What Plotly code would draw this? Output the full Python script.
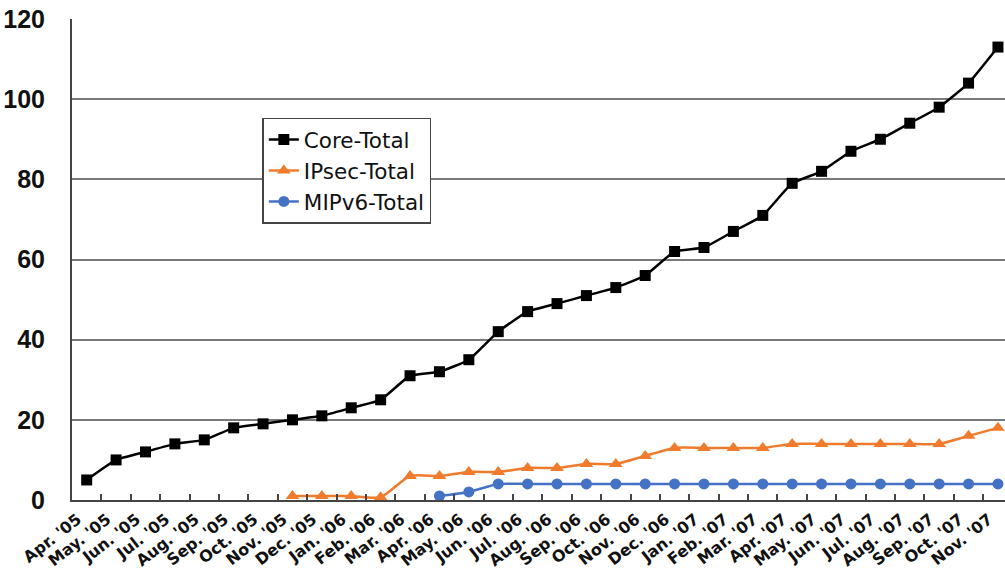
import plotly.graph_objects as go

months = ["Apr. '05", "May. '05", "Jun. '05", "Jul. '05", "Aug. '05", "Sep. '05", "Oct. '05", "Nov. '05",
          "Dec. '05", "Jan. '06", "Feb. '06", "Mar. '06", "Apr. '06", "May. '06", "Jun. '06", "Jul. '06",
          "Aug. '06", "Sep. '06", "Oct. '06", "Nov. '06", "Dec. '06", "Jan. '07", "Feb. '07", "Mar. '07",
          "Apr. '07", "May. '07", "Jun. '07", "Jul. '07", "Aug. '07", "Sep. '07", "Oct. '07", "Nov. '07"]

core_total = [5, 10, 12, 14, 15, 18, 19, 20, 21, 23, 25, 31, 32, 35, 42, 47, 49, 51, 53, 56, 62, 63,
              67, 71, 79, 82, 87, 90, 94, 98, 104, 113]

ipsec_months = months[7:]
ipsec_total = [1, 1, 1, 0.7, 6, 6, 7, 7, 8, 8, 9, 9, 11, 13, 13, 13, 13, 14, 14, 14, 14, 14, 14, 16, 18]

mipv6_months = months[12:]
mipv6_total = [1, 2, 4, 4, 4, 4, 4, 4, 4, 4, 4, 4, 4, 4, 4, 4, 4, 4, 4, 4]

y_ticks = [0, 20, 40, 60, 80, 100, 120]

fig = go.Figure()
fig.add_trace(go.Scatter(
    x=months, y=core_total, name="Core-Total", mode="lines+markers",
    line=dict(color="#000000", width=2.5, shape="spline", smoothing=0.4),
    marker=dict(symbol="square", size=11, color="#000000"), cliponaxis=False))
fig.add_trace(go.Scatter(
    x=ipsec_months, y=ipsec_total, name="IPsec-Total", mode="lines+markers",
    line=dict(color="#F07B2C", width=2.5, shape="spline", smoothing=0.6),
    marker=dict(symbol="triangle-up", size=12, color="#F07B2C"), cliponaxis=False))
fig.add_trace(go.Scatter(
    x=mipv6_months, y=mipv6_total, name="MIPv6-Total", mode="lines+markers",
    line=dict(color="#4472C4", width=2.5, shape="spline", smoothing=0.6),
    marker=dict(symbol="circle", size=11, color="#4472C4"), cliponaxis=False))

fig.update_layout(
    width=1005, height=574,
    margin=dict(l=72, r=0, t=19, b=74, autoexpand=False),
    paper_bgcolor="white", plot_bgcolor="white",
    font=dict(family="Liberation Sans, Arial, sans-serif", color="#111111"),
    showlegend=True,
    legend=dict(x=0.204, y=0.795, xanchor="left", yanchor="top",
                bgcolor="white", bordercolor="#444444", borderwidth=1.5,
                font=dict(family="DejaVu Sans, sans-serif", size=21.5, color="#111111"),
                tracegroupgap=0, itemwidth=30),
)
fig.update_xaxes(
    type="category", categoryorder="array", categoryarray=months,
    range=[-0.5, 31.24], automargin=False,
    showline=True, linecolor="#444444", linewidth=2,
    ticks="inside", ticklen=6, tickcolor="#444444", tickwidth=1.5,
    tickson="boundaries", tickangle=-38, ticklabelshift=-9, ticklabelstandoff=2,
    tickfont=dict(family="DejaVu Sans, sans-serif", size=16, weight="bold", color="#111111"),
    showgrid=False, zeroline=False,
)
fig.update_yaxes(
    range=[0, 120], tickvals=y_ticks, automargin=False,
    showline=True, linecolor="#444444", linewidth=2,
    showgrid=True, gridcolor="#7a7a7a", gridwidth=1.5,
    zeroline=False, ticks="", ticklabelstandoff=20, ticklabeloverflow="allow",
    tickfont=dict(size=25, weight="bold", color="#111111"),
)

fig.write_html("out.html", config={"displayModeBar": False},
               post_script="document.body.style.margin='0';")
